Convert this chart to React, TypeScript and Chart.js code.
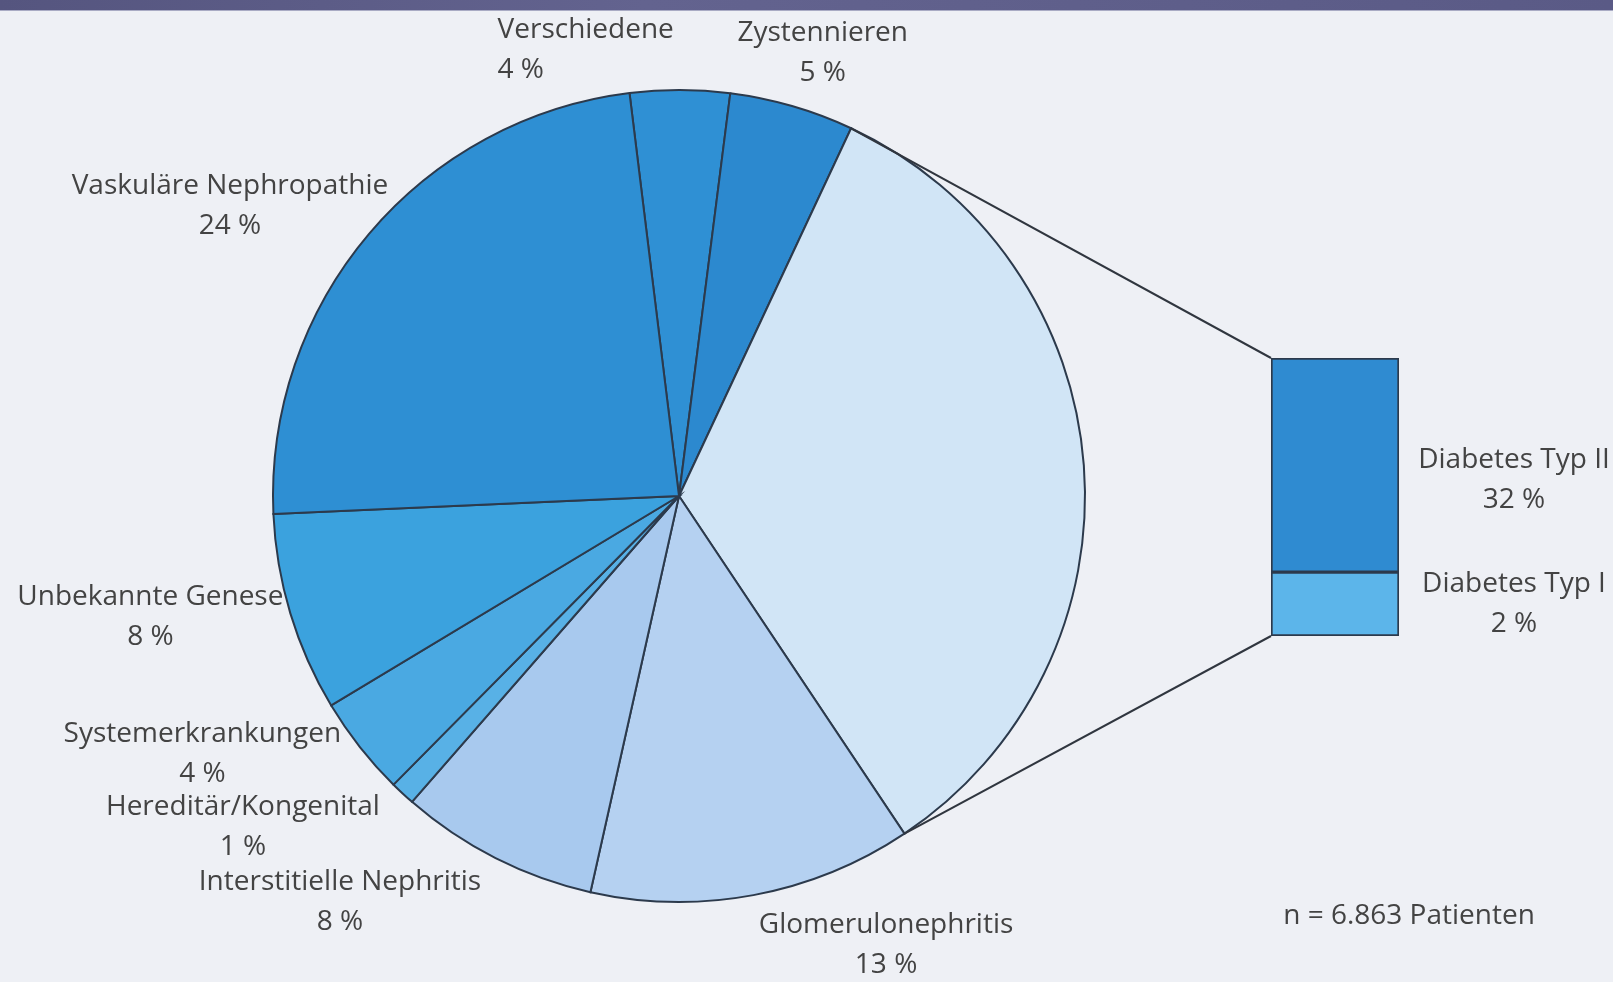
import { useEffect, useRef } from "react";
import { Chart, registerables } from "chart.js";

Chart.register(...registerables);

// Ursachen des terminalen Nierenversagens, Anteile in Prozent
const CAUSES = [
  "Verschiedene",
  "Zystennieren",
  "Diabetes mellitus",
  "Glomerulonephritis",
  "Interstitielle Nephritis",
  "Hereditär/Kongenital",
  "Systemerkrankungen",
  "Unbekannte Genese",
  "Vaskuläre Nephropathie",
];

// Aufteilung des Diabetes-Anteils (unten → oben im Balken)
const DIABETES_TYPES = ["Diabetes Typ I", "Diabetes Typ II"];
const DIABETES_SHARES = [2, 32];
const DIABETES_TOTAL = DIABETES_SHARES.reduce((a, b) => a + b, 0);

const CAUSE_SHARES = [4, 5, DIABETES_TOTAL, 13, 8, 1, 4, 8, 24];
const DIABETES_INDEX = 2;

const PATIENT_NOTE = "n = 6.863 Patienten";

// Styles
const SLICE_COLORS = [
  "#2f90d4",
  "#2c89cf",
  "#d1e5f6",
  "#b5d1f1",
  "#a8c9ee",
  "#58b1e6",
  "#4aa9e2",
  "#3ba2de",
  "#2e8fd3",
];
const BAR_COLORS = ["#5cb5ea", "#2f8bd1"];
const EDGE_COLOR = "#2c3a4c";
const TEXT_COLOR = "#434343";
const FONT = '28px "Open Sans"';
const LINE_GAP = 40;

const WIDTH = 1613;
const HEIGHT = 982;

// Label anchors relative to the pie centre, in units of the pie radius
const LABEL_LAYOUT: ({ u: number; v: number; align?: CanvasTextAlign } | null)[] = [
  { u: -0.447, v: -1.147, align: "left" },
  { u: 0.354, v: -1.14 },
  null,
  { u: 0.51, v: 1.057 },
  { u: -0.835, v: 0.951 },
  { u: -1.074, v: 0.767 },
  { u: -1.174, v: 0.587 },
  { u: -1.302, v: 0.248 },
  { u: -1.106, v: -0.764 },
];

const pieLabels = {
  id: "pieLabels",
  afterDraw(chart: any) {
    const { ctx } = chart;
    const arcs = chart.getDatasetMeta(0).data;
    const values = chart.data.datasets[0].data;
    ctx.save();
    ctx.font = FONT;
    ctx.fillStyle = TEXT_COLOR;
    ctx.textBaseline = "middle";
    arcs.forEach((arc: any, i: number) => {
      const place = LABEL_LAYOUT[i];
      if (!place) return;
      const { x, y, outerRadius } = arc.getProps(["x", "y", "outerRadius"], true);
      const lx = x + place.u * outerRadius;
      const ly = y + place.v * outerRadius;
      ctx.textAlign = place.align ?? "center";
      ctx.fillText(chart.data.labels[i], lx, ly);
      ctx.fillText(`${values[i]} %`, lx, ly + LINE_GAP);
    });
    ctx.restore();
  },
};

export default function App() {
  const pieRef = useRef<HTMLCanvasElement | null>(null);
  const barRef = useRef<HTMLCanvasElement | null>(null);

  useEffect(() => {
    if (!pieRef.current || !barRef.current) return;

    const pie = new Chart(pieRef.current, {
      type: "pie",
      data: {
        labels: CAUSES,
        datasets: [
          {
            data: CAUSE_SHARES,
            backgroundColor: SLICE_COLORS,
            borderColor: EDGE_COLOR,
            borderWidth: 2,
            borderJoinStyle: "miter",
          },
        ],
      },
      options: {
        responsive: false,
        animation: false,
        events: [],
        rotation: -7,
        layout: { padding: { left: 272, right: 527, top: 89, bottom: 79 } },
        plugins: { legend: { display: false }, tooltip: { enabled: false } },
      },
      plugins: [pieLabels],
    });

    // Connector lines from the diabetes slice to the bar, plus the bar labels
    const barDecor = {
      id: "barDecor",
      afterDraw(chart: any) {
        const { ctx, chartArea } = chart;
        const arc = pie.getDatasetMeta(0).data[DIABETES_INDEX] as any;
        const { x, y, startAngle, endAngle, outerRadius } = arc.getProps(
          ["x", "y", "startAngle", "endAngle", "outerRadius"],
          true
        );
        const lower = chart.getDatasetMeta(0).data[0].getProps(["x", "y", "base", "width"], true);
        const upper = chart.getDatasetMeta(1).data[0].getProps(["x", "y", "base", "width"], true);
        const left = upper.x - upper.width / 2;
        const right = upper.x + upper.width / 2;

        ctx.save();
        ctx.strokeStyle = "#30363f";
        ctx.lineWidth = 2;
        ctx.beginPath();
        ctx.moveTo(x + outerRadius * Math.cos(startAngle), y + outerRadius * Math.sin(startAngle));
        ctx.lineTo(left, upper.y);
        ctx.moveTo(x + outerRadius * Math.cos(endAngle), y + outerRadius * Math.sin(endAngle));
        ctx.lineTo(left, lower.base);
        ctx.stroke();

        ctx.font = FONT;
        ctx.fillStyle = TEXT_COLOR;
        ctx.textAlign = "center";
        ctx.textBaseline = "middle";
        const segments = [lower, upper];
        const shift = [0, 15];
        segments.forEach((seg: any, i: number) => {
          const mid = (seg.y + seg.base) / 2 + shift[i];
          const tx = right + 115;
          ctx.fillText(DIABETES_TYPES[i], tx, mid - LINE_GAP / 2);
          ctx.fillText(`${DIABETES_SHARES[i]} %`, tx, mid + LINE_GAP / 2);
        });

        ctx.fillText(PATIENT_NOTE, chartArea.left + 138, chartArea.bottom + 280);
        ctx.restore();
      },
    };

    const bar = new Chart(barRef.current, {
      type: "bar",
      data: {
        labels: ["Diabetes mellitus"],
        datasets: DIABETES_TYPES.map((name, i) => ({
          label: name,
          data: [DIABETES_SHARES[i]],
          backgroundColor: BAR_COLORS[i],
          borderColor: EDGE_COLOR,
          borderWidth: 2,
          borderSkipped: false,
          barPercentage: 1,
          categoryPercentage: 1,
        })),
      },
      options: {
        responsive: false,
        animation: false,
        events: [],
        layout: { padding: { left: 1271, right: 214, top: 358, bottom: 346 } },
        scales: {
          x: { stacked: true, display: false },
          y: {
            type: "logarithmic",
            stacked: true,
            display: false,
            min: 0.86,
            max: DIABETES_TOTAL,
          },
        },
        plugins: { legend: { display: false }, tooltip: { enabled: false } },
      },
      plugins: [barDecor],
    });

    return () => {
      bar.destroy();
      pie.destroy();
    };
  }, []);

  return (
    <div
      style={{
        position: "fixed",
        left: 0,
        top: 0,
        width: WIDTH,
        height: HEIGHT,
        background: "#eef0f5",
        overflow: "hidden",
      }}
    >
      <div
        style={{
          position: "absolute",
          left: 0,
          top: 0,
          width: WIDTH,
          height: 10,
          background: "linear-gradient(90deg, #55557f, #63638f 40%, #5a5a86)",
          borderBottom: "1px solid #a9abc4",
        }}
      />
      <canvas
        ref={pieRef}
        width={WIDTH}
        height={HEIGHT}
        style={{ position: "absolute", left: 0, top: 0 }}
      />
      <canvas
        ref={barRef}
        width={WIDTH}
        height={HEIGHT}
        style={{ position: "absolute", left: 0, top: 0 }}
      />
    </div>
  );
}
